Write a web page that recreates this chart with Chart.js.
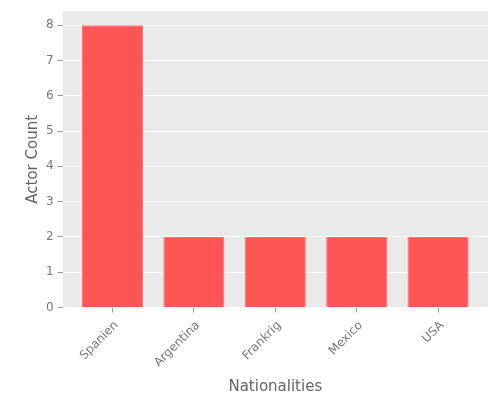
<!DOCTYPE html>
<html>
<head>
<meta charset="utf-8">
<script src="https://cdn.jsdelivr.net/npm/chart.js@4/dist/chart.umd.min.js"></script>
<style>
  html, body { margin: 0; padding: 0; background: #fff; }
  #wrap { width: 500px; height: 400px; }
</style>
</head>
<body>
<div id="wrap"><canvas id="chart"></canvas></div>
<script>
const nationalities = ["Spanien", "Argentina", "Frankrig", "Mexico", "USA"];
const actorCounts   = [8, 2, 2, 2, 2];
const yTicks        = [0, 1, 2, 3, 4, 5, 6, 7, 8];

// grey panel behind the bars, like the ggplot style
const panelBg = {
  id: "panelBg",
  beforeDraw(chart){
    const a = chart.chartArea;
    const ctx = chart.ctx;
    ctx.save();
    ctx.fillStyle = "#EAEAEA";
    ctx.fillRect(a.left, a.top, a.right - a.left, a.bottom - a.top);
    ctx.restore();
  }
};

const points = nationalities.map((n, i) => ({ x: i, y: actorCounts[i] }));

new Chart(document.getElementById("chart"), {
  type: "bar",
  data: {
    datasets: [{
      data: points,
      backgroundColor: "#FF5555",
      borderColor: "#FF7070",
      borderWidth: 1,
      categoryPercentage: 1,
      barPercentage: 0.75
    }]
  },
  options: {
    responsive: true,
    maintainAspectRatio: false,
    animation: false,
    layout: { padding: { top: 10, right: 12, left: 24, bottom: 4 } },
    plugins: { legend: { display: false }, tooltip: { enabled: false } },
    scales: {
      x: {
        type: "linear",
        offset: false,
        min: -0.6125,
        max: 4.6125,
        afterBuildTicks(axis){ axis.ticks = nationalities.map((n, i) => ({ value: i })); },
        ticks: {
          callback: (v) => nationalities[v] ?? "",
          minRotation: 45,
          maxRotation: 45,
          labelOffset: 4,
          padding: 6,
          color: "#777",
          font: { family: "DejaVu Sans", size: 12 }
        },
        grid: { offset: false, drawOnChartArea: false, tickColor: "#999", tickLength: 5, tickWidth: 1 },
        border: { display: false },
        title: {
          display: true,
          text: "Nationalities",
          color: "#666",
          font: { family: "DejaVu Sans", size: 15 },
          padding: { top: 2, bottom: 0 }
        }
      },
      y: {
        min: 0,
        max: 8.4,
        afterBuildTicks(axis){ axis.ticks = yTicks.map(v => ({ value: v })); },
        ticks: {
          color: "#777",
          padding: 4,
          font: { family: "DejaVu Sans", size: 12 }
        },
        grid: { color: "#FFFFFF", lineWidth: 1, tickColor: "#999", tickLength: 5 },
        border: { display: false },
        title: {
          display: true,
          text: "Actor Count",
          color: "#666",
          font: { family: "DejaVu Sans", size: 15 },
          padding: { top: 0, bottom: 0 }
        }
      }
    }
  },
  plugins: [panelBg]
});
</script>
</body>
</html>
